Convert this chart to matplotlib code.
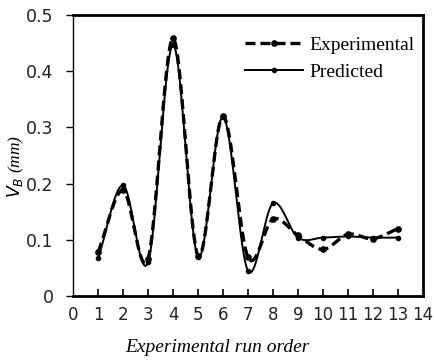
import numpy as np
import matplotlib.pyplot as plt

run_order = [1, 2, 3, 4, 5, 6, 7, 8, 9, 10, 11, 12, 13]
experimental = [0.078, 0.188, 0.066, 0.458, 0.072, 0.32, 0.069, 0.137, 0.108, 0.083, 0.11, 0.102, 0.12]
predicted = [0.067, 0.197, 0.06, 0.447, 0.07, 0.319, 0.045, 0.165, 0.104, 0.104, 0.106, 0.104, 0.104]
xtick_labels = [str(i) for i in range(15)]
yticks = [0, 0.1, 0.2, 0.3, 0.4, 0.5]
ytick_labels = ["0", "0.1", "0.2", "0.3", "0.4", "0.5"]


def smooth(x, y, n=20):
    # catmull-rom curve through the points, like a spreadsheet "smoothed line"
    x = np.asarray(x, float)
    y = np.asarray(y, float)
    px = np.concatenate([[2 * x[0] - x[1]], x, [2 * x[-1] - x[-2]]])
    py = np.concatenate([[2 * y[0] - y[1]], y, [2 * y[-1] - y[-2]]])
    xs, ys = [], []
    t = np.linspace(0, 1, n)
    for i in range(1, len(px) - 2):
        for p, out in ((px, xs), (py, ys)):
            p0, p1, p2, p3 = p[i - 1], p[i], p[i + 1], p[i + 2]
            out.extend(0.5 * (2 * p1 + (-p0 + p2) * t
                              + (2 * p0 - 5 * p1 + 4 * p2 - p3) * t**2
                              + (-p0 + 3 * p1 - 3 * p2 + p3) * t**3))
    return np.array(xs), np.array(ys)


fig = plt.figure(figsize=(4.35, 3.62), dpi=100)
ax = fig.add_axes([0.168, 0.182, 0.804, 0.777])

sx, sy = smooth(run_order, experimental)
ax.plot(sx, sy, color="k", lw=2.4, ls=(0, (3, 1.5)))
ax.plot(run_order, experimental, "o", color="k", ms=3.8)
px, py = smooth(run_order, predicted)
ax.plot(px, py, color="k", lw=1.4)
ax.plot(run_order, predicted, "o", color="k", ms=3)

# legend entries
ax.plot([], [], color="k", lw=2.4, ls=(0, (3, 1.5)), marker="o", ms=3.8, label="Experimental")
ax.plot([], [], color="k", lw=1.4, marker="o", ms=3, label="Predicted")
ax.legend(loc="upper right", frameon=False, handlelength=3.0, handletextpad=0.3,
          labelspacing=0.45, bbox_to_anchor=(1.025, 0.985),
          prop={"family": "Liberation Serif", "size": 14})

ax.set_xlim(0, 14)
ax.set_ylim(0, 0.5)
ax.set_xticks(range(1, 14))
ax.set_xticklabels([])
ax.tick_params(axis="x", direction="in", length=5, width=1.2)
for i, lab in enumerate(xtick_labels):
    ax.text(i, -0.034, lab, ha="center", va="center", fontsize=12,
            family="DejaVu Sans", color="#222222", transform=ax.transData)
ax.set_yticks(yticks)
ax.set_yticklabels(ytick_labels, fontsize=12.5, color="#222222")
ax.tick_params(axis="y", direction="out", length=5, width=1, pad=9)

for s in ["top", "right", "bottom"]:
    ax.spines[s].set_linewidth(2)
ax.spines["left"].set_linewidth(1)

fig.text(0.036, 0.54, "$V_B$ (mm)", rotation=90, ha="center", va="center",
         family="Liberation Serif", style="italic", fontsize=12.5)
fig.text(0.5, 0.04, "Experimental run order", ha="center", va="center",
         family="Liberation Serif", style="italic", fontsize=14)

fig.savefig("out.png", dpi=100)
